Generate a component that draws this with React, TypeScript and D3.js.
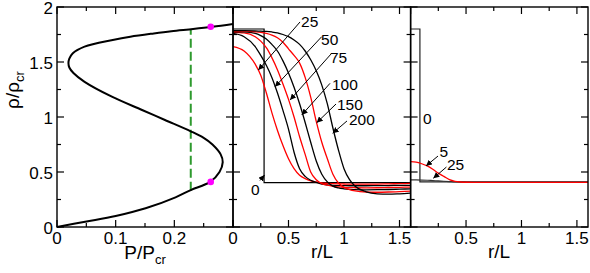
import React from 'react'
import * as d3 from 'd3'

// left panel: equation of state, rho/rho_cr against P/P_cr
const eosDensity = [0, 0.048, 0.1, 0.17, 0.27, 0.336, 0.41, 0.5, 0.59, 0.66, 0.75, 0.81, 0.87, 0.973, 1.064, 1.185, 1.32, 1.4, 1.45, 1.49, 1.53, 1.58, 1.64, 1.7, 1.73, 1.76, 1.78, 1.8, 1.82, 1.845]
const eosPressure = [0, 0.048, 0.1, 0.151, 0.202, 0.228, 0.261, 0.277, 0.2825, 0.279, 0.265, 0.25, 0.228, 0.184, 0.145, 0.0935, 0.047, 0.028, 0.021, 0.0195, 0.021, 0.027, 0.047, 0.095, 0.125, 0.165, 0.195, 0.232, 0.265, 0.3]
const coexPressure = 0.228
const coexDensity = [0.33, 1.8]
const markerPressure = [0.262, 0.262]
const markerDensity = [0.41, 1.82]

// middle panel: density profiles at several times
const radius2 = [0, 0.1, 0.2, 0.25, 0.3, 0.35, 0.4, 0.45, 0.5, 0.55, 0.6, 0.65, 0.7, 0.75, 0.8, 0.85, 0.9, 0.95, 1.0, 1.05, 1.1, 1.2, 1.3, 1.4, 1.5, 1.6]
const step2Radius = [0, 0.28, 0.28, 1.6]
const step2Density = [1.8, 1.8, 0.403, 0.403]
const times2 = ['25', '50', '75', '100', '150', '200']
const profile25 = [1.64, 1.6, 1.48, 1.38, 1.22, 1.04, 0.88, 0.74, 0.62, 0.53, 0.47, 0.44, 0.42, 0.41, 0.4, 0.397, 0.394, 0.392, 0.391, 0.39, 0.39, 0.39, 0.39, 0.392, 0.394, 0.396]
const profile50 = [1.76, 1.73, 1.64, 1.56, 1.47, 1.36, 1.22, 1.06, 0.89, 0.68, 0.53, 0.46, 0.425, 0.405, 0.39, 0.383, 0.379, 0.377, 0.376, 0.375, 0.375, 0.375, 0.376, 0.377, 0.378, 0.379]
const profile75 = [1.77, 1.765, 1.73, 1.69, 1.63, 1.54, 1.43, 1.3, 1.16, 1.0, 0.82, 0.66, 0.5, 0.43, 0.395, 0.38, 0.37, 0.364, 0.36, 0.358, 0.357, 0.356, 0.357, 0.359, 0.361, 0.363]
const profile100 = [1.775, 1.773, 1.76, 1.74, 1.71, 1.66, 1.6, 1.51, 1.4, 1.27, 1.12, 0.95, 0.77, 0.6, 0.48, 0.41, 0.372, 0.355, 0.347, 0.342, 0.34, 0.338, 0.339, 0.341, 0.344, 0.347]
const profile150 = [1.78, 1.78, 1.775, 1.77, 1.76, 1.745, 1.72, 1.68, 1.62, 1.56, 1.49, 1.36, 1.18, 0.96, 0.77, 0.62, 0.48, 0.4, 0.36, 0.34, 0.328, 0.318, 0.316, 0.318, 0.322, 0.327]
const profile200 = [1.785, 1.785, 1.783, 1.78, 1.778, 1.773, 1.765, 1.75, 1.73, 1.7, 1.66, 1.6, 1.52, 1.42, 1.29, 1.12, 0.9, 0.7, 0.53, 0.43, 0.37, 0.32, 0.302, 0.298, 0.302, 0.308]
const profiles2 = [profile25, profile50, profile75, profile100, profile150, profile200]
const colors2 = ['#ff0000', '#000000', '#ff0000', '#000000', '#ff0000', '#000000']

// right panel: small droplet that evaporates
const radius3 = [0, 0.05, 0.1, 0.15, 0.2, 0.25, 0.3, 0.35, 0.4, 0.45, 0.5, 0.6, 0.8, 1.0, 1.2, 1.4, 1.6]
const step3Radius = [0, 0.084, 0.084, 1.6]
const step3Density = [1.8, 1.8, 0.41, 0.41]
const profile3t25 = [0.428, 0.428, 0.427, 0.425, 0.422, 0.419, 0.416, 0.413, 0.41, 0.408, 0.407, 0.406, 0.405, 0.405, 0.405, 0.405, 0.405]
const profile3t5 = [0.595, 0.59, 0.575, 0.555, 0.525, 0.49, 0.46, 0.43, 0.415, 0.409, 0.407, 0.406, 0.405, 0.405, 0.405, 0.405, 0.405]

// annotations: [text, text x, text y, arrow from x, from y, to x, to y] in data units
type Note = [string, number, number, number | null, number, number, number]
const notes2: Note[] = [
  ['25', 0.613, 1.818, 0.604, 1.864, 0.228, 1.427],
  ['50', 0.793, 1.655, 0.799, 1.73, 0.378, 1.275],
  ['75', 0.874, 1.491, 0.889, 1.579, 0.514, 1.155],
  ['100', 0.892, 1.245, 0.874, 1.306, 0.619, 1.018],
  ['150', 0.937, 1.064, 0.928, 1.118, 0.754, 0.948],
  ['200', 1.045, 0.927, 1.027, 0.964, 0.898, 0.852],
  ['0', 0.162, 0.291, 0.243, 0.423, 0.284, 0.473],
]
const notes3: Note[] = [
  ['0', 0.112, 0.936, null, 0, 0, 0],
  ['5', 0.26, 0.636, 0.247, 0.645, 0.139, 0.555],
  ['25', 0.328, 0.518, 0.323, 0.545, 0.205, 0.443],
]

const yMajor = [0, 0.5, 1, 1.5, 2]
const yMinor = [0.25, 0.75, 1.25, 1.75]
const yLabels = ['0', '0.5', '1', '1.5', '2']
const pMajor = [0, 0.1, 0.2, 0.3]
const pMinor = [0.05, 0.15, 0.25]
const pLabels = ['0', '0.1', '0.2']
const rMajor = [0, 0.5, 1, 1.5]
const rMinor = [0.25, 0.75, 1.25]
const rLabels2 = ['0', '0.5', '1', '1.5']
const rLabels3 = ['', '0.5', '1', '1.5']

const FONT = 'Liberation Sans, Arial, Helvetica, sans-serif'
const top = 7
const bottom = 227

const y = d3.scaleLinear().domain([0, 2]).range([bottom, top])
const x1 = d3.scaleLinear().domain([0, 0.3]).range([57, 233])
const x2 = d3.scaleLinear().domain([0, 1.6]).range([233, 410.6])
const x3 = d3.scaleLinear().domain([0, 1.6]).range([410.6, 588])

function Frame({ x, major, minor, labels }: { x: d3.ScaleLinear<number, number>, major: number[], minor: number[], labels: string[] }) {
  const [x0, xe] = x.range()
  const ticks: JSX.Element[] = []
  major.concat(minor).forEach((v, i) => {
    const len = i < major.length ? 7 : 4
    const px = x(v)
    ticks.push(<line key={'b' + i} x1={px} x2={px} y1={bottom} y2={bottom - len} stroke="#000" strokeWidth={1.2} />)
    ticks.push(<line key={'t' + i} x1={px} x2={px} y1={top} y2={top + len} stroke="#000" strokeWidth={1.2} />)
  })
  yMajor.concat(yMinor).forEach((v, i) => {
    const len = i < yMajor.length ? 7 : 4
    const py = y(v)
    ticks.push(<line key={'l' + i} x1={x0} x2={x0 + len} y1={py} y2={py} stroke="#000" strokeWidth={1.2} />)
    ticks.push(<line key={'r' + i} x1={xe} x2={xe - len} y1={py} y2={py} stroke="#000" strokeWidth={1.2} />)
  })
  return (
    <g>
      {ticks}
      <rect x={x0} y={top} width={xe - x0} height={bottom - top} fill="none" stroke="#000" strokeWidth={1.4} />
      {labels.map((t, i) => t === '' ? null : (
        <text key={'lab' + i} x={x(major[i])} y={244} textAnchor="middle" fontSize={17}>{t}</text>
      ))}
    </g>
  )
}

function Notes({ x, notes }: { x: d3.ScaleLinear<number, number>, notes: Note[] }) {
  return (
    <g>
      {notes.map(([t, tx, ty, ax, ay, bx, by], i) => (
        <g key={i}>
          <text x={x(tx)} y={y(ty)} fontSize={15.5}>{t}</text>
          {ax === null ? null : (
            <line x1={x(ax)} y1={y(ay)} x2={x(bx)} y2={y(by)} stroke="#000" strokeWidth={1} markerEnd="url(#arrow)" />
          )}
        </g>
      ))}
    </g>
  )
}

export default function App() {
  const eosLine = d3.line<number>()
    .x((_, i) => x1(eosPressure[i]))
    .y((d) => y(d))
    .curve(d3.curveCatmullRom.alpha(0.5))

  const line2 = (vals: number[], rr: number[], curved: boolean) => d3.line<number>()
    .x((_, i) => x2(rr[i]))
    .y((d) => y(d))
    .curve(curved ? d3.curveMonotoneX : d3.curveLinear)(vals) as string

  const line3 = (vals: number[], rr: number[], curved: boolean) => d3.line<number>()
    .x((_, i) => x3(rr[i]))
    .y((d) => y(d))
    .curve(curved ? d3.curveMonotoneX : d3.curveLinear)(vals) as string

  return (
    <svg width={590} height={273} fontFamily={FONT} style={{ position: 'absolute', left: 0, top: 0, background: '#fff', fontFamily: FONT }}>
      <defs>
        <marker id="arrow" markerUnits="userSpaceOnUse" markerWidth={7} markerHeight={6} refX={6} refY={3} orient="auto">
          <path d="M0,0 L6,3 L0,6 Z" fill="#000" />
        </marker>
      </defs>

      {/* panel 1 */}
      <line x1={x1(coexPressure)} x2={x1(coexPressure)} y1={y(coexDensity[0])} y2={y(coexDensity[1])}
        stroke="#2e9a2e" strokeWidth={2} strokeDasharray="9 4" />
      <path d={eosLine(eosDensity) as string} fill="none" stroke="#000" strokeWidth={2} />
      {markerPressure.map((p, i) => (
        <circle key={i} cx={x1(p)} cy={y(markerDensity[i])} r={3.3} fill="#ff00ff" />
      ))}

      {/* panel 2 */}
      <path d={line2(step2Density, step2Radius, false)} fill="none" stroke="#000" strokeWidth={1.2} />
      {profiles2.map((vals, i) => (
        <path key={times2[i]} d={line2(vals, radius2, true)} fill="none" stroke={colors2[i]} strokeWidth={1.3} />
      ))}

      {/* panel 3 */}
      <path d={line3(step3Density, step3Radius, false)} fill="none" stroke="#222" strokeWidth={1.2} />
      <path d={line3(profile3t25, radius3, true)} fill="none" stroke="#333" strokeWidth={1.2} />
      <path d={line3(profile3t5, radius3, true)} fill="none" stroke="#ff0000" strokeWidth={1.3} />

      <Frame x={x1} major={pMajor} minor={pMinor} labels={pLabels} />
      <Frame x={x2} major={rMajor} minor={rMinor} labels={rLabels2} />
      <Frame x={x3} major={rMajor} minor={rMinor} labels={rLabels3} />

      <Notes x={x2} notes={notes2} />
      <Notes x={x3} notes={notes3} />

      {yMajor.map((v, i) => (
        <text key={v} x={53} y={y(v) + 7} textAnchor="end" fontSize={17}>{yLabels[i]}</text>
      ))}

      <text transform="translate(19,90) rotate(-90)" textAnchor="middle" fontSize={19}>
        ρ/ρ<tspan dy={5} fontSize={13}>cr</tspan>
      </text>
      <text x={145} y={259} textAnchor="middle" fontSize={19}>
        P/P<tspan dy={5} fontSize={13}>cr</tspan>
      </text>
      <text x={322} y={258} textAnchor="middle" fontSize={19}>r/L</text>
      <text x={499} y={258} textAnchor="middle" fontSize={19}>r/L</text>
    </svg>
  )
}
